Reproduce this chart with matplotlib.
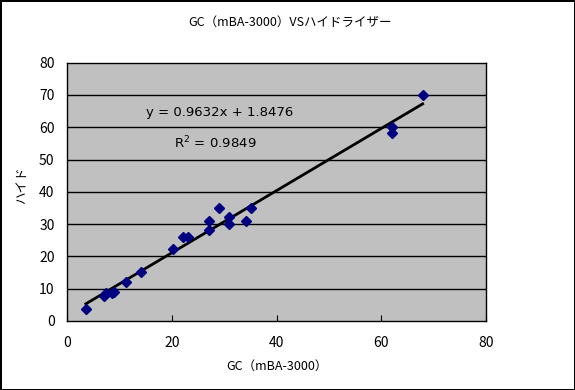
import matplotlib
matplotlib.use("Agg")
import matplotlib.pyplot as plt
import numpy as np

plt.rcParams['font.family'] = ['Noto Sans CJK JP', 'DejaVu Sans']

# data
gc_mba = [3.6, 7.0, 7.4, 8.6, 9.0, 11.3, 14.1, 20.2, 22.1, 23.1, 27.1, 27.1,
          29.1, 31.0, 31.0, 34.1, 35.1, 62.0, 62.0, 67.9]
hyde = [3.8, 7.6, 8.8, 8.6, 9.0, 12.2, 15.3, 22.2, 26.1, 26.1, 28.2, 31.0,
        35.0, 32.3, 30.1, 31.0, 34.9, 60.0, 58.1, 70.1]
slope = 0.9632
intercept = 1.8476
r2 = 0.9849

title = "GC（mBA-3000）VSハイドライザー"
xlabel = "GC（mBA-3000）"
ylabel = "ハイド"

fig = plt.figure(figsize=(5.75, 3.9), dpi=100)
fig.patch.set_facecolor("white")
fig.patch.set_edgecolor("black")
fig.patch.set_linewidth(2)

ax = fig.add_axes([67 / 575, 1 - 321 / 390, (486 - 67) / 575, (321 - 62.7) / 390])
ax.set_facecolor("#C0C0C0")

# horizontal gridlines
for yv in range(10, 80, 10):
    ax.axhline(yv, color="black", lw=1, zorder=1)

ax.plot(gc_mba, hyde, "D", color="#000080", markersize=5, zorder=3)

xs = np.array([min(gc_mba), max(gc_mba)])
ax.plot(xs, slope * xs + intercept, color="black", lw=2, zorder=2)

ax.text(15, 64.6, f"y = {slope}x + {intercept}", fontsize=9.5, va="center",
        family=["DejaVu Sans"])
ax.text(20.5, 55, f"R$^2$ = {r2}", fontsize=9.5, va="center", family=["DejaVu Sans"])

ax.set_xlim(0, 80)
ax.set_ylim(0, 80)
ax.set_xticks(range(0, 81, 20))
ax.set_yticks(range(0, 81, 10))
ax.tick_params(axis="x", direction="in", length=4, labelsize=10, pad=11)
ax.tick_params(axis="y", length=0, labelsize=10, pad=9)
for s in ax.spines.values():
    s.set_color("black")
    s.set_linewidth(1)

fig.text(290 / 575, 1 - 22 / 390, title, fontsize=9, ha="center", va="center")
fig.text(277 / 575, 1 - 366 / 390, xlabel, fontsize=9, ha="center", va="center")
fig.text(22 / 575, 1 - 185 / 390, ylabel, fontsize=9, ha="center", va="center",
         rotation=90)

fig.savefig("out.png", dpi=100, facecolor=fig.get_facecolor(),
            edgecolor=fig.get_edgecolor())
